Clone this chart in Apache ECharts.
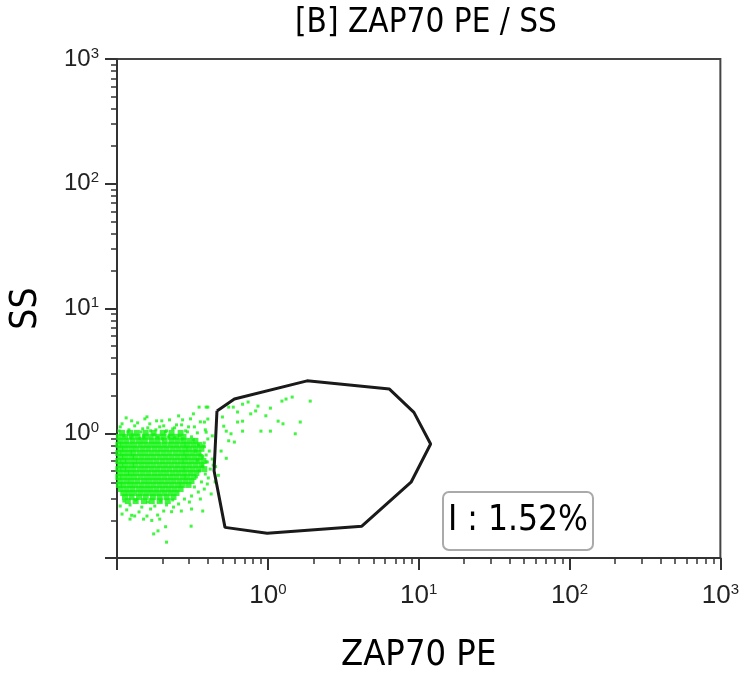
<!DOCTYPE html>
<html>
<head>
<meta charset="utf-8">
<script src="https://cdn.jsdelivr.net/npm/echarts@6/dist/echarts.min.js"></script>
<style>
html, body { margin: 0; padding: 0; background: #fff; }
#main { width: 742px; height: 681px; }
</style>
</head>
<body>
<div id="main"></div>
<script>
var chart;

// axis ticks / labels (log scale, decades)
var majorTicks = [0.1, 1, 10, 100, 1000];
var minorTicks = [0.2, 0.3, 0.4, 0.5, 0.6, 0.7, 0.8, 0.9,
    2, 3, 4, 5, 6, 7, 8, 9,
    20, 30, 40, 50, 60, 70, 80, 90,
    200, 300, 400, 500, 600, 700, 800, 900];
var labelValues = [1, 10, 100, 1000];

// dense part of the cloud, read row by row (SS value, then ZAP70 PE values)
var coreRowY = [1.007, 0.936, 0.869, 0.807, 0.750, 0.694, 0.645, 0.599, 0.556, 0.516, 0.480, 0.446, 0.414, 0.385, 0.357, 0.332, 0.308, 0.286];
var coreRowX = [
    [0.108, 0.122, 0.135, 0.155, 0.175, 0.201, 0.230, 0.264],
    [0.103, 0.113, 0.125, 0.137, 0.153, 0.167, 0.186, 0.204, 0.227, 0.248, 0.276],
    [0.105, 0.115, 0.127, 0.140, 0.153, 0.170, 0.186, 0.207, 0.230, 0.252, 0.276, 0.302, 0.331],
    [0.102, 0.110, 0.120, 0.131, 0.144, 0.158, 0.173, 0.189, 0.207, 0.227, 0.248, 0.272, 0.293, 0.321, 0.352],
    [0.105, 0.113, 0.124, 0.135, 0.148, 0.162, 0.178, 0.195, 0.213, 0.234, 0.256, 0.280, 0.302, 0.331, 0.363],
    [0.102, 0.110, 0.120, 0.129, 0.142, 0.155, 0.170, 0.186, 0.204, 0.223, 0.245, 0.268, 0.289, 0.316, 0.346],
    [0.105, 0.113, 0.124, 0.133, 0.146, 0.160, 0.175, 0.192, 0.210, 0.230, 0.252, 0.276, 0.298, 0.326, 0.357],
    [0.102, 0.110, 0.118, 0.129, 0.140, 0.153, 0.167, 0.183, 0.201, 0.220, 0.241, 0.264, 0.285, 0.312, 0.341, 0.374],
    [0.105, 0.113, 0.124, 0.133, 0.146, 0.160, 0.175, 0.192, 0.210, 0.230, 0.252, 0.276, 0.302, 0.331, 0.363],
    [0.102, 0.110, 0.118, 0.129, 0.142, 0.155, 0.170, 0.186, 0.204, 0.223, 0.245, 0.268, 0.289, 0.316, 0.346, 0.379],
    [0.105, 0.115, 0.124, 0.135, 0.148, 0.162, 0.178, 0.195, 0.213, 0.234, 0.256, 0.280, 0.307, 0.336],
    [0.102, 0.110, 0.120, 0.131, 0.144, 0.158, 0.173, 0.189, 0.207, 0.227, 0.248, 0.272, 0.293, 0.321],
    [0.105, 0.115, 0.125, 0.137, 0.151, 0.165, 0.181, 0.198, 0.217, 0.237, 0.260, 0.285, 0.312],
    [0.103, 0.111, 0.122, 0.133, 0.146, 0.160, 0.175, 0.192, 0.210, 0.230, 0.252, 0.272, 0.298],
    [0.106, 0.116, 0.127, 0.140, 0.153, 0.167, 0.183, 0.201, 0.220, 0.241, 0.264],
    [0.110, 0.120, 0.131, 0.144, 0.158, 0.173, 0.189, 0.207, 0.227, 0.248],
    [0.113, 0.125, 0.140, 0.155, 0.173, 0.192, 0.213, 0.237],
    [0.118, 0.133, 0.151, 0.170, 0.192, 0.217]
];

// sparse events around the cloud: [ZAP70 PE, SS]
var edgeEvents = [
    [0.108, 1.19], [0.120, 1.065], [0.131, 1.146], [0.144, 1.026], [0.160, 1.105], [0.175, 0.971],
    [0.192, 1.125], [0.210, 1.026], [0.234, 1.085], [0.260, 0.953], [0.285, 1.045], [0.312, 0.936],
    [0.341, 1.007], [0.111, 0.953], [0.127, 0.971], [0.151, 0.936], [0.167, 1.045], [0.220, 0.936],
    [0.248, 1.167], [0.298, 1.125], [0.103, 1.045], [0.183, 1.257], [0.272, 1.280], [0.125, 1.257],
    [0.153, 1.304], [0.198, 1.257], [0.256, 1.378], [0.321, 1.43],
    [0.105, 1.125], [0.115, 1.328], [0.137, 1.211], [0.148, 1.085], [0.165, 1.189], [0.181, 1.065],
    [0.204, 1.146], [0.223, 1.280], [0.241, 1.105], [0.268, 1.167], [0.293, 1.026], [0.326, 1.125],
    [0.357, 1.234], [0.385, 1.065], [0.428, 0.953], [0.118, 1.026], [0.158, 1.353], [0.213, 1.045],
    [0.307, 1.304],
    [0.124, 0.92], [0.142, 0.91], [0.186, 0.93], [0.200, 0.90], [0.240, 0.92], [0.270, 0.90],
    [0.321, 0.885], [0.346, 0.806], [0.331, 0.720], [0.357, 0.669], [0.341, 0.610], [0.368, 0.546],
    [0.352, 0.498], [0.336, 0.446], [0.363, 0.407], [0.326, 0.371], [0.346, 0.338], [0.312, 0.314],
    [0.385, 0.471], [0.415, 0.516], [0.397, 0.392], [0.428, 0.621], [0.379, 0.836],
    [0.374, 0.793], [0.409, 0.720], [0.390, 0.669], [0.434, 0.556], [0.403, 0.438], [0.379, 0.357],
    [0.421, 0.326], [0.357, 0.297], [0.447, 0.407], [0.397, 0.588],
    [0.111, 0.286], [0.122, 0.266], [0.133, 0.292], [0.146, 0.256], [0.160, 0.281], [0.178, 0.261],
    [0.195, 0.286], [0.213, 0.266], [0.234, 0.292], [0.256, 0.271], [0.280, 0.297], [0.116, 0.243],
    [0.140, 0.234], [0.167, 0.247], [0.204, 0.238], [0.105, 0.261], [0.131, 0.217], [0.186, 0.221],
    [0.302, 0.281],
    [0.108, 0.225], [0.158, 0.217], [0.237, 0.256], [0.192, 0.205], [0.312, 0.247], [0.122, 0.205],
    [0.175, 0.156], [0.187, 0.165], [0.21, 0.178], [0.213, 0.134], [0.15, 0.205], [0.17, 0.20],
    [0.125, 0.22], [0.23, 0.235], [0.267, 0.238], [0.37, 0.238], [0.31, 0.18]
];

// events near / inside the gate
var gateEvents = [
    [0.40, 1.62], [0.55, 1.62], [0.59, 1.62], [0.68, 1.71], [0.74, 1.78], [0.86, 1.65], [1.04, 1.59],
    [1.24, 1.81], [1.32, 1.88], [1.45, 1.95], [1.91, 1.81], [0.50, 1.35], [0.63, 1.48], [0.77, 1.43],
    [0.83, 1.51], [0.97, 1.38], [0.63, 1.23], [0.68, 1.25], [1.17, 1.25], [1.26, 1.19], [1.64, 1.23],
    [0.51, 1.14], [0.53, 1.04], [0.68, 1.04], [0.90, 1.04], [1.04, 1.04], [1.52, 0.99], [0.57, 0.99],
    [0.55, 0.87], [0.60, 0.85], [0.49, 0.72], [0.53, 0.63], [0.44, 0.59], [0.47, 0.46], [0.45, 0.54],
    [0.39, 1.62], [0.40, 1.30], [0.38, 1.23], [0.39, 1.02], [0.40, 0.90], [0.38, 0.78], [0.37, 0.65],
    [0.39, 0.59], [0.35, 1.62]
];

// gate "I" polygon
var gateX = [0.46, 0.60, 1.82, 6.4, 9.3, 12.0, 8.9, 4.2, 0.99, 0.52, 0.44, 0.46];
var gateY = [1.51, 1.88, 2.63, 2.26, 1.47, 0.82, 0.405, 0.18, 0.158, 0.176, 0.50, 1.51];
var gateLabel = 'I : 1.52%';

var coreData = [];
for (var i = 0; i < coreRowY.length; i++) {
    for (var j = 0; j < coreRowX[i].length; j++) {
        coreData.push([coreRowX[i][j], coreRowY[i]]);
    }
}
var gateData = [];
for (var k = 0; k < gateX.length; k++) {
    gateData.push([gateX[k], gateY[k]]);
}

function expLabel(v) {
    var e = Math.round(Math.log(v) / Math.LN10);
    return '{b|10}{s|' + e + '}';
}

var green = '#12f212';
var axisColor = '#333';

var richX = {
    b: { fontFamily: 'Liberation Sans', fontSize: 26, color: '#222', lineHeight: 28 },
    s: { fontFamily: 'Liberation Sans', fontSize: 15, color: '#222', verticalAlign: 'top', lineHeight: 15 }
};
var richY = {
    b: { fontFamily: 'Liberation Sans', fontSize: 24, color: '#222', lineHeight: 26 },
    s: { fontFamily: 'Liberation Sans', fontSize: 15, color: '#222', verticalAlign: 'top', lineHeight: 15 }
};

chart = echarts.init(document.getElementById('main'));

var option = {
    animation: false,
    backgroundColor: '#fff',
    title: [{
        text: '[B] ZAP70 PE / SS',
        left: 421,
        top: 2,
        textAlign: 'center',
        textStyle: { fontFamily: 'DejaVu Sans Condensed', fontSize: 33, fontWeight: 'normal', color: '#000' }
    }, {
        text: gateLabel,
        left: 443,
        top: 492,
        padding: [9, 5, 9, 5],
        borderColor: '#aaa',
        borderWidth: 2,
        borderRadius: 6,
        backgroundColor: '#fff',
        textStyle: { fontFamily: 'DejaVu Sans Condensed', fontSize: 35, lineHeight: 40, fontWeight: 'normal', color: '#000' }
    }],
    grid: {
        left: 115,
        top: 59,
        width: 610,
        height: 499,
        show: true,
        borderColor: '#444',
        borderWidth: 2
    },
    xAxis: [{
        type: 'log',
        logBase: 10,
        min: 0.1,
        max: 1000,
        position: 'bottom',
        name: 'ZAP70 PE',
        nameLocation: 'middle',
        nameGap: 80,
        nameTextStyle: { fontFamily: 'DejaVu Sans Condensed', fontSize: 36, color: '#000' },
        axisLine: { show: true, lineStyle: { color: axisColor, width: 2 } },
        axisTick: { show: true, length: 12, customValues: majorTicks, lineStyle: { color: axisColor, width: 2 } },
        axisLabel: { customValues: labelValues, margin: 24, formatter: expLabel, rich: richX },
        splitLine: { show: false }
    }, {
        type: 'log',
        logBase: 10,
        min: 0.1,
        max: 1000,
        position: 'bottom',
        axisLine: { show: false },
        axisTick: { show: true, length: 6, customValues: minorTicks, lineStyle: { color: axisColor, width: 1.5 } },
        axisLabel: { show: false },
        splitLine: { show: false }
    }],
    yAxis: [{
        type: 'log',
        logBase: 10,
        min: 0.1,
        max: 1000,
        position: 'left',
        name: 'SS',
        nameLocation: 'middle',
        nameGap: 72,
        nameRotate: 90,
        nameTextStyle: { fontFamily: 'DejaVu Sans Condensed', fontSize: 37, color: '#000' },
        axisLine: { show: true, lineStyle: { color: axisColor, width: 2 } },
        axisTick: { show: true, length: 12, customValues: majorTicks, lineStyle: { color: axisColor, width: 2 } },
        axisLabel: { customValues: labelValues, margin: 18, formatter: expLabel, rich: richY },
        splitLine: { show: false }
    }, {
        type: 'log',
        logBase: 10,
        min: 0.1,
        max: 1000,
        position: 'left',
        axisLine: { show: false },
        axisTick: { show: true, length: 6, customValues: minorTicks, lineStyle: { color: axisColor, width: 1.5 } },
        axisLabel: { show: false },
        splitLine: { show: false }
    }],
    series: [{
        name: 'core',
        type: 'scatter',
        symbol: 'rect',
        symbolSize: 6,
        itemStyle: { color: green },
        data: coreData,
        z: 2
    }, {
        name: 'edge',
        type: 'scatter',
        symbol: 'rect',
        symbolSize: 3,
        itemStyle: { color: green },
        data: edgeEvents.concat(gateEvents),
        z: 2
    }, {
        name: 'gate',
        type: 'line',
        data: gateData,
        showSymbol: false,
        symbol: 'none',
        lineStyle: { color: '#1a1a1a', width: 3 },
        z: 3
    }]
};
chart.setOption(option);
</script>
</body>
</html>
